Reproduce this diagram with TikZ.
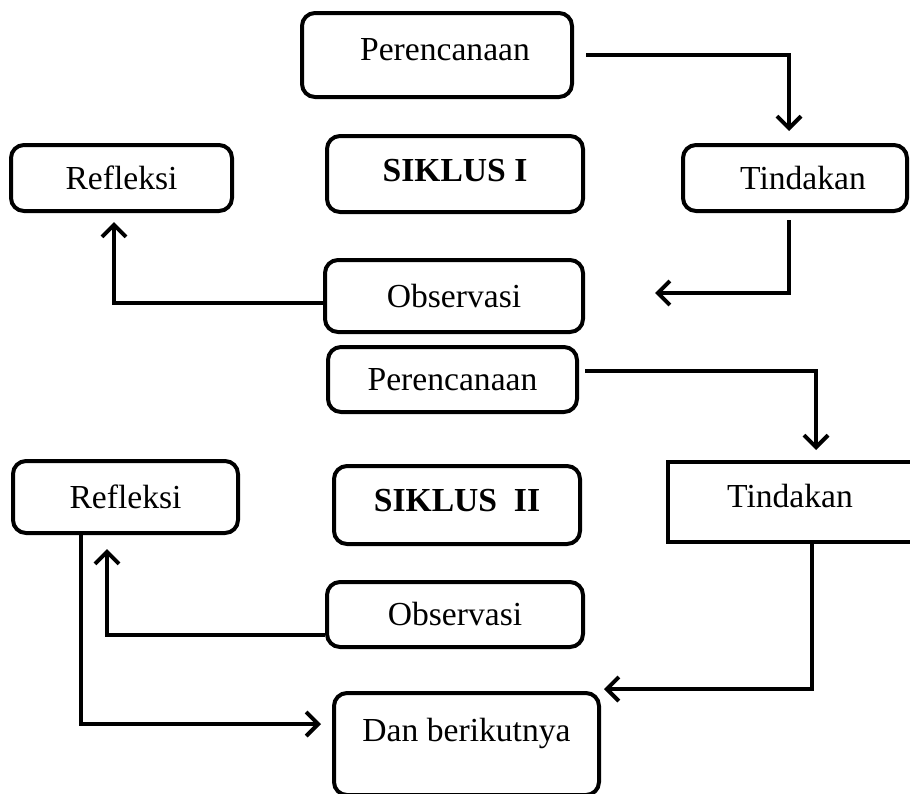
\documentclass[tikz,border=0pt]{standalone}
\usepackage{fontspec}
\setmainfont{Liberation Serif}
\usetikzlibrary{arrows.meta}

\begin{document}
\begin{tikzpicture}[
x=0.5pt, y=-0.5pt,
font=\fontsize{16.8}{20}\selectfont,
box/.style={
    draw=black, line width=2pt, rounded corners=6.5pt,
    text height=11.5pt, text depth=0.5pt, inner sep=0pt
},
arr/.style={
    draw=black, line width=2pt,
    -{Straight Barb[length=6pt,width=12pt]}
},
]

\useasboundingbox (0,0) rectangle (910,793);

\node[box, minimum width=135pt, minimum height=42pt, text depth=6.5pt] (rencana1) at (437,55) {\hspace*{8pt}Perencanaan};
\node[box, minimum width=128pt, minimum height=38pt, text depth=4.5pt] (siklus1) at (455,174) {\textbf{SIKLUS I}};
\node[box, minimum width=110.5pt, minimum height=33pt] (refleksi1) at (121.5,178) {Refleksi};
\node[box, minimum width=112pt, minimum height=33pt] (tindakan1) at (795,178) {\hspace*{8pt}Tindakan};
\node[box, minimum width=129pt, minimum height=36pt] (observasi1) at (454,296) {Observasi};
\coordinate (ujung1) at (655,293);

\node[box, minimum width=124.5pt, minimum height=32.5pt] (rencana2) at (452.5,379.5) {Perencanaan};
\node[box, minimum width=112.5pt, minimum height=36pt] (refleksi2) at (125.5,497) {Refleksi};
\node[box, minimum width=123pt, minimum height=39pt, text depth=5.5pt] (siklus2) at (457,505) {\textbf{SIKLUS\ \ II}};
\node[box, rounded corners=0pt, minimum width=122pt, minimum height=40pt, text depth=6.5pt] (tindakan2) at (790,502) {Tindakan};
\node[box, minimum width=128pt, minimum height=32.5pt] (observasi2) at (455,614.5) {Observasi};
\node[box, minimum width=132.5pt, minimum height=51pt, text depth=14.5pt] (lanjut) at (466.5,744) {Dan berikutnya};

\draw[arr, shorten <=6pt, shorten >=6pt] (rencana1.east) -| ([xshift=-3pt]tindakan1.north);
\draw[arr, shorten <=3.5pt] ([xshift=-3pt]tindakan1.south) |- (ujung1);
\draw[arr, shorten >=4.5pt] ([yshift=-3.5pt]observasi1.west) -| ([xshift=-3.75pt]refleksi1.south);

\draw[arr, shorten <=3pt, shorten >=5pt] ([yshift=4.25pt]rencana2.east) -| ([xshift=13pt]tindakan2.north);
\draw[arr] ([xshift=11pt]tindakan2.south) |- ([xshift=1.5pt,yshift=1pt]lanjut.north east);
\draw[arr, shorten >=7pt] ([yshift=-10.25pt]observasi2.west) -| ([xshift=-9.25pt]refleksi2.south);
\draw[arr, shorten >=5.5pt] ([xshift=-22.25pt]refleksi2.south) |- ([yshift=10pt]lanjut.west);

\end{tikzpicture}
\end{document}
